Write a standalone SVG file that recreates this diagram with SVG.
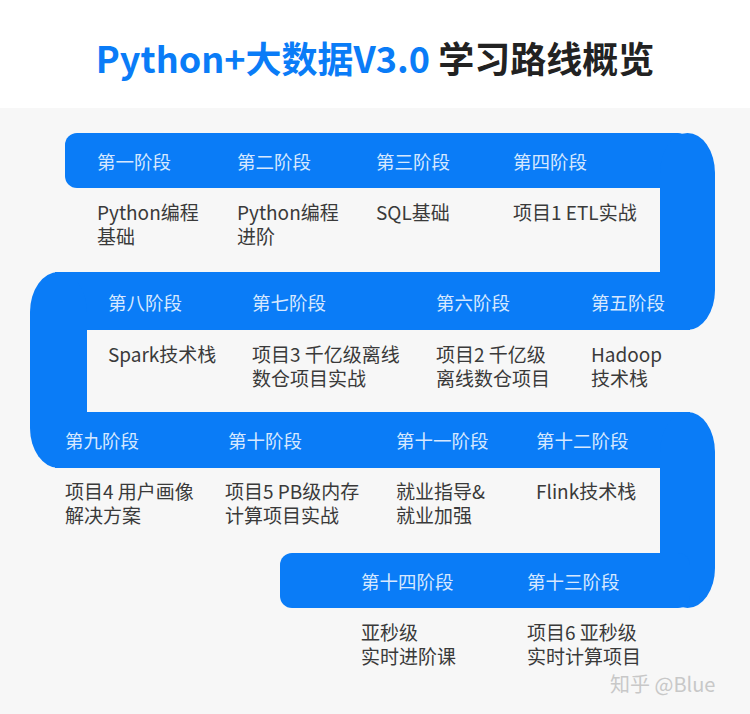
<svg xmlns="http://www.w3.org/2000/svg" width="750" height="714" viewBox="0 0 750 714">
<style>
.b{fill:#0a7cf7}
.g{fill:#f7f7f7}
.lab{font-family:"Noto Sans CJK SC",sans-serif;font-size:18.5px;fill:#d6e8ff}
.txt{font-family:"Noto Sans CJK SC",sans-serif;font-size:19px;fill:#3a3a3a}
</style>
<rect width="750" height="714" fill="#fff"/>
<rect y="108" width="750" height="606" class="g"/>
<text x="375" y="73" text-anchor="middle" font-family="Noto Sans CJK SC,sans-serif" font-size="36" font-weight="bold"><tspan fill="#0a7cf7">Python+大数据V3.0</tspan><tspan fill="#222"> 学习路线概览</tspan></text>
<g id="path">
<rect x="65" y="133" width="625" height="55" rx="12" class="b"/>
<rect x="660" y="133" width="55" height="197" rx="40" class="b"/>
<rect x="55" y="272" width="635" height="58" class="b"/>
<rect x="30" y="272" width="57" height="196" rx="40" class="b"/>
<rect x="55" y="412" width="635" height="56" class="b"/>
<rect x="660" y="412" width="55" height="196" rx="40" class="b"/>
<rect x="280" y="553" width="410" height="55" rx="12" class="b"/>
<rect x="-20" y="188" width="680" height="84" rx="12" class="g"/>
<rect x="87" y="330" width="700" height="82" rx="12" class="g"/>
<rect x="-20" y="468" width="680" height="85" rx="12" class="g"/>
</g>
<g id="row1">
<text class="lab" x="97" y="169">第一阶段</text><text class="lab" x="237" y="169">第二阶段</text><text class="lab" x="376" y="169">第三阶段</text><text class="lab" x="513" y="169">第四阶段</text>
<text class="txt" x="97" y="220">Python编程<tspan x="97" y="244">基础</tspan></text>
<text class="txt" x="237" y="220">Python编程<tspan x="237" y="244">进阶</tspan></text>
<text class="txt" x="376" y="220">SQL基础</text>
<text class="txt" x="513" y="220">项目1 ETL实战</text>
</g>
<g id="row2">
<text class="lab" x="108" y="310">第八阶段</text><text class="lab" x="252" y="310">第七阶段</text><text class="lab" x="436" y="310">第六阶段</text><text class="lab" x="591" y="310">第五阶段</text>
<text class="txt" x="108" y="362">Spark技术栈</text>
<text class="txt" x="252" y="362">项目3 千亿级离线<tspan x="252" y="386">数仓项目实战</tspan></text>
<text class="txt" x="436" y="362">项目2 千亿级<tspan x="436" y="386">离线数仓项目</tspan></text>
<text class="txt" x="591" y="362">Hadoop<tspan x="591" y="386">技术栈</tspan></text>
</g>
<g id="row3">
<text class="lab" x="65" y="448">第九阶段</text><text class="lab" x="228" y="448">第十阶段</text><text class="lab" x="396" y="448">第十一阶段</text><text class="lab" x="536" y="448">第十二阶段</text>
<text class="txt" x="65" y="499">项目4 用户画像<tspan x="65" y="523">解决方案</tspan></text>
<text class="txt" x="225" y="499">项目5 PB级内存<tspan x="225" y="523">计算项目实战</tspan></text>
<text class="txt" x="396" y="499">就业指导&amp;<tspan x="396" y="523">就业加强</tspan></text>
<text class="txt" x="536" y="499">Flink技术栈</text>
</g>
<g id="row4">
<text class="lab" x="361" y="589">第十四阶段</text><text class="lab" x="527" y="589">第十三阶段</text>
<text class="txt" x="361" y="640">亚秒级<tspan x="361" y="664">实时进阶课</tspan></text>
<text class="txt" x="527" y="640">项目6 亚秒级<tspan x="527" y="664">实时计算项目</tspan></text>
</g>
<text x="610" y="692" font-family="Noto Sans CJK SC,sans-serif" font-size="20" fill="#c8c8c8">知乎 @Blue</text>
</svg>
